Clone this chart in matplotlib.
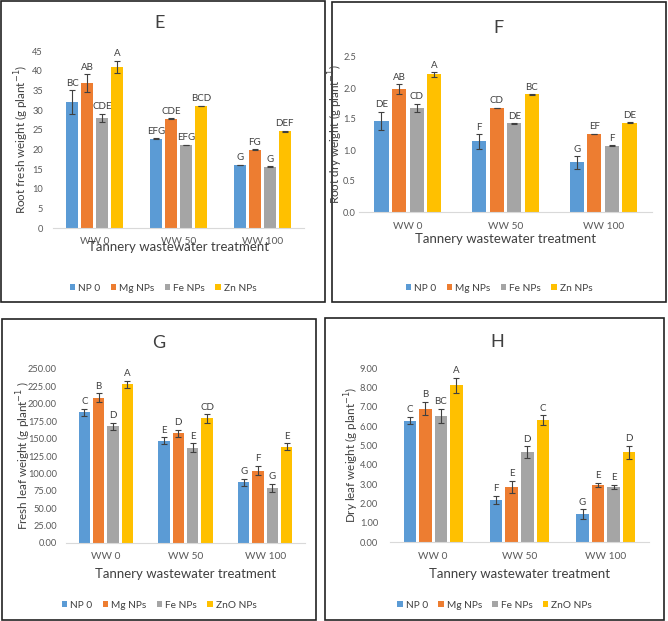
import matplotlib.pyplot as plt
import numpy as np
from matplotlib.patches import Rectangle

W, H = 668, 621

groups = ["WW 0", "WW 50", "WW 100"]
colors = ["#5B9BD5", "#ED7D31", "#A5A5A5", "#FFC000"]
legend_zn = ["NP 0", "Mg NPs", "Fe NPs", "Zn NPs"]
legend_zno = ["NP 0", "Mg NPs", "Fe NPs", "ZnO NPs"]

# panel E: root fresh weight
e_vals = [[32.0, 22.7, 16.0], [36.8, 27.8, 19.9], [28.0, 21.1, 15.6], [41.0, 31.0, 24.6]]
e_errs = [[3.0, 0.1, 0.1], [2.3, 0.1, 0.1], [1.0, 0.1, 0.1], [1.5, 0.1, 0.1]]
e_lets = [["BC", "EFG", "G"], ["AB", "CDE", "FG"], ["CDE", "EFG", "G"], ["A", "BCD", "DEF"]]

# panel F: root dry weight
f_vals = [[1.47, 1.14, 0.80], [1.98, 1.68, 1.26], [1.68, 1.43, 1.07], [2.22, 1.90, 1.44]]
f_errs = [[0.15, 0.12, 0.10], [0.08, 0.005, 0.005], [0.07, 0.005, 0.005], [0.04, 0.005, 0.005]]
f_lets = [["DE", "F", "G"], ["AB", "CD", "EF"], ["CD", "DE", "F"], ["A", "BC", "DE"]]

# panel G: fresh leaf weight
g_vals = [[188, 147, 87], [209, 158, 104], [168, 137, 79], [228, 179, 138]]
g_errs = [[5, 5, 5], [6, 5, 7], [5, 6, 6], [5, 6, 5]]
g_lets = [["C", "E", "G"], ["B", "D", "F"], ["D", "E", "G"], ["A", "CD", "E"]]

# panel H: dry leaf weight
h_vals = [[6.28, 2.18, 1.45], [6.90, 2.85, 2.97], [6.53, 4.65, 2.85], [8.10, 6.30, 4.64]]
h_errs = [[0.2, 0.2, 0.25], [0.35, 0.3, 0.1], [0.35, 0.3, 0.12], [0.4, 0.25, 0.35]]
h_lets = [["C", "F", "G"], ["B", "E", "E"], ["BC", "D", "E"], ["A", "C", "D"]]

plt.rcParams['font.family'] = ['Lato', 'DejaVu Sans']
fig = plt.figure(figsize=(W / 100, H / 100), dpi=100)

def fx(px):
    return px / W

def fy(py):
    return 1 - py / H

def panel(box, plot, title, title_xy, vals, errs, lets, ymax, ystep, fmt,
          ylabel, ylabel_x, ypad, tick_y, xlabel_y, legend_y, labels):
    # border box (pixels: x0, y0, x1, y1)
    x0, y0, x1, y1 = box
    fig.patches.append(Rectangle((fx(x0), fy(y1)), fx(x1 - x0), (y1 - y0) / H,
                                 transform=fig.transFigure, fill=False,
                                 edgecolor="#222222", lw=1.2))
    l, t, r, b = plot
    ax = fig.add_axes([fx(l), fy(b), fx(r - l), (b - t) / H])
    x = np.arange(len(groups))
    width, step = 0.145, 0.18
    for i in range(4):
        pos = x + (i - 1.5) * step
        ax.bar(pos, vals[i], width, color=colors[i], label=labels[i],
               yerr=errs[i], capsize=2.5,
               error_kw=dict(ecolor="#404040", elinewidth=0.8, capthick=0.8))
        for p, v, e, s in zip(pos, vals[i], errs[i], lets[i]):
            ax.text(p, v + e + ymax * 0.015, s, ha="center", va="bottom",
                    fontsize=7, color="#404040")
    ax.set_xlim(-0.5, 2.5)
    ax.set_ylim(0, ymax)
    ticks = np.arange(0, ymax + ystep / 2, ystep)
    ax.set_yticks(ticks)
    ax.set_yticklabels([fmt.format(v) for v in ticks])
    ax.set_xticks(x)
    ax.set_xticklabels(groups)
    for s in ["top", "right", "left"]:
        ax.spines[s].set_visible(False)
    ax.spines["bottom"].set_color("#D9D9D9")
    ax.tick_params(axis="both", length=0, labelsize=6.7, colors="#595959")
    ax.tick_params(axis="x", labelsize=7.3, pad=(tick_y - b) * 0.72 - 3)
    ax.tick_params(axis="y", pad=ypad * 0.72)
    fig.text(fx(title_xy[0]), fy(title_xy[1]), title, ha="center", va="center",
             fontsize=13, color="#404040")
    fig.text(fx(ylabel_x), fy((t + b) / 2), ylabel, rotation=90, ha="center",
             va="center", fontsize=8.4, color="#404040")
    fig.text(fx((l + r) / 2), fy(xlabel_y), "Tannery wastewater treatment",
             ha="center", va="center", fontsize=9.5, color="#404040")
    handles, hl = ax.get_legend_handles_labels()
    fig.legend(handles, hl, loc="center", ncol=4,
               bbox_to_anchor=(fx((x0 + x1) / 2), fy(legend_y)),
               frameon=False, fontsize=7.3, handlelength=0.55, handleheight=0.55,
               columnspacing=1.0, handletextpad=0.3, labelcolor="#404040")
    return ax

panel((1, 1, 325, 302), (53, 51, 304, 228), "E", (160, 23),
      e_vals, e_errs, e_lets, 45, 5, "{:.0f}",
      "Root fresh weight (g plant$^{-1}$)", 22, 10, 241, 247, 288, legend_zn)
panel((332, 2, 666, 302), (359, 57, 652, 212), "F", (498, 28),
      f_vals, f_errs, f_lets, 2.5, 0.5, "{:.1f}",
      "Root dry weight (g plant$^{-1}$)", 336, 3, 226, 239, 288, legend_zn)
panel((2, 319, 316, 620), (66, 369, 305, 543), "G", (159, 343),
      g_vals, g_errs, g_lets, 250, 25, "{:.2f}",
      "Fresh leaf weight (g plant$^{-1}$ )", 24, 9, 556, 574, 605, legend_zno)
panel((325, 318, 664, 620), (390, 368, 649, 542), "H", (497, 342),
      h_vals, h_errs, h_lets, 9, 1, "{:.2f}",
      "Dry leaf weight (g plant$^{-1}$)", 352, 12, 556, 574, 605, legend_zno)

fig.savefig("out.png", dpi=100, facecolor="white")
